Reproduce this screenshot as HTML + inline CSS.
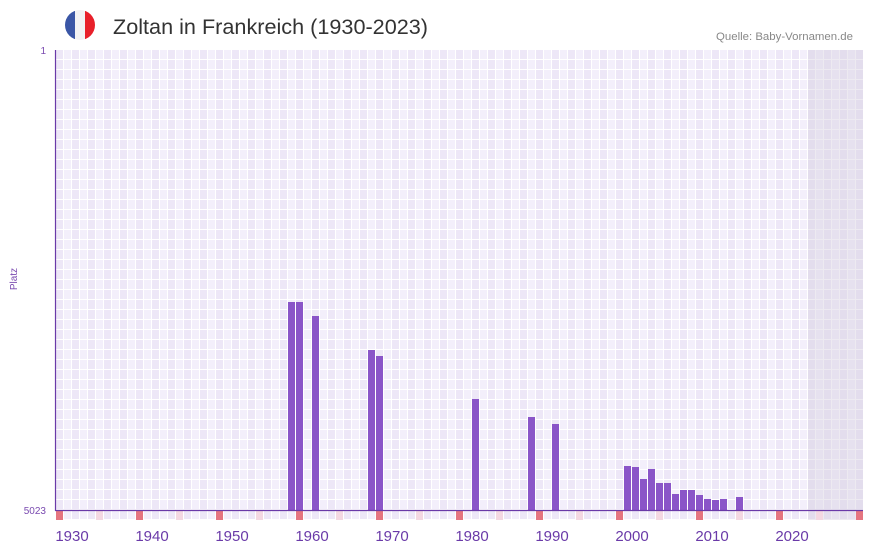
<!DOCTYPE html>
<html><head><meta charset="utf-8"><style>
body{margin:0;background:#fff;width:873px;height:552px;overflow:hidden;font-family:"Liberation Sans",sans-serif}
</style></head><body>
<svg width="873" height="552" xmlns="http://www.w3.org/2000/svg">
<defs>
<pattern id="g" x="56" y="50" width="16" height="10" patternUnits="userSpaceOnUse">
<rect width="16" height="10" fill="#fff"/>
<rect width="7" height="9" fill="#ede7f7"/>
<rect x="8" width="7" height="9" fill="#f3effb"/>
</pattern>
<clipPath id="fl"><circle cx="80" cy="25" r="15"/></clipPath>
</defs>
<g clip-path="url(#fl)">
<rect x="65" y="10" width="10" height="30" fill="#3a56a6"/>
<rect x="75" y="10" width="10" height="30" fill="#f2f2f4"/>
<rect x="85" y="10" width="10" height="30" fill="#e8202a"/>
</g>
<text x="113" y="34" font-size="21" fill="#333" textLength="315" lengthAdjust="spacingAndGlyphs">Zoltan in Frankreich (1930-2023)</text>
<text x="716" y="40" font-size="11" fill="#888" textLength="137" lengthAdjust="spacingAndGlyphs">Quelle: Baby-Vornamen.de</text>
<rect x="56" y="50" width="807" height="470" fill="url(#g)"/>
<rect x="808" y="50" width="55" height="470" fill="#d8d0e0" opacity="0.45"/>
<g fill="#e57580">
<rect x="56" y="511" width="7" height="9"/><rect x="136" y="511" width="7" height="9"/><rect x="216" y="511" width="7" height="9"/><rect x="296" y="511" width="7" height="9"/><rect x="376" y="511" width="7" height="9"/><rect x="456" y="511" width="7" height="9"/><rect x="536" y="511" width="7" height="9"/><rect x="616" y="511" width="7" height="9"/><rect x="696" y="511" width="7" height="9"/><rect x="776" y="511" width="7" height="9"/><rect x="856" y="511" width="7" height="9"/>
</g>
<g fill="#f4d8e2">
<rect x="96" y="511" width="7" height="9"/><rect x="176" y="511" width="7" height="9"/><rect x="256" y="511" width="7" height="9"/><rect x="336" y="511" width="7" height="9"/><rect x="416" y="511" width="7" height="9"/><rect x="496" y="511" width="7" height="9"/><rect x="576" y="511" width="7" height="9"/><rect x="656" y="511" width="7" height="9"/><rect x="736" y="511" width="7" height="9"/><rect x="816" y="511" width="7" height="9"/>
</g>
<g fill="#8a55c8">
<rect x="288" y="302" width="7" height="208"/>
<rect x="296" y="302" width="7" height="208"/>
<rect x="312" y="316" width="7" height="194"/>
<rect x="368" y="350" width="7" height="160"/>
<rect x="376" y="356" width="7" height="154"/>
<rect x="472" y="399" width="7" height="111"/>
<rect x="528" y="417" width="7" height="93"/>
<rect x="552" y="424" width="7" height="86"/>
<rect x="624" y="466" width="7" height="44"/>
<rect x="632" y="467" width="7" height="43"/>
<rect x="640" y="479" width="7" height="31"/>
<rect x="648" y="469" width="7" height="41"/>
<rect x="656" y="483" width="7" height="27"/>
<rect x="664" y="483" width="7" height="27"/>
<rect x="672" y="494" width="7" height="16"/>
<rect x="680" y="490" width="7" height="20"/>
<rect x="688" y="490" width="7" height="20"/>
<rect x="696" y="495" width="7" height="15"/>
<rect x="704" y="499" width="7" height="11"/>
<rect x="712" y="500" width="7" height="10"/>
<rect x="720" y="499" width="7" height="11"/>
<rect x="736" y="497" width="7" height="13"/>
</g>
<line x1="55.5" y1="50" x2="55.5" y2="511" stroke="#6a3aa8" stroke-width="1.2"/>
<line x1="55" y1="510.5" x2="863" y2="510.5" stroke="#6a3aa8" stroke-width="1.2"/>
<text x="46" y="54" font-size="10" fill="#7a4ab0" text-anchor="end">1</text>
<text x="46" y="514" font-size="10" fill="#7a4ab0" text-anchor="end">5023</text>
<text transform="translate(17,279) rotate(-90)" font-size="10" fill="#7a4ab0" text-anchor="middle">Platz</text>
<g font-size="15" fill="#6a3aa8" text-anchor="middle">
<text x="72" y="541">1930</text><text x="152" y="541">1940</text><text x="232" y="541">1950</text><text x="312" y="541">1960</text><text x="392" y="541">1970</text><text x="472" y="541">1980</text><text x="552" y="541">1990</text><text x="632" y="541">2000</text><text x="712" y="541">2010</text><text x="792" y="541">2020</text>
</g>
</svg>
</body></html>
